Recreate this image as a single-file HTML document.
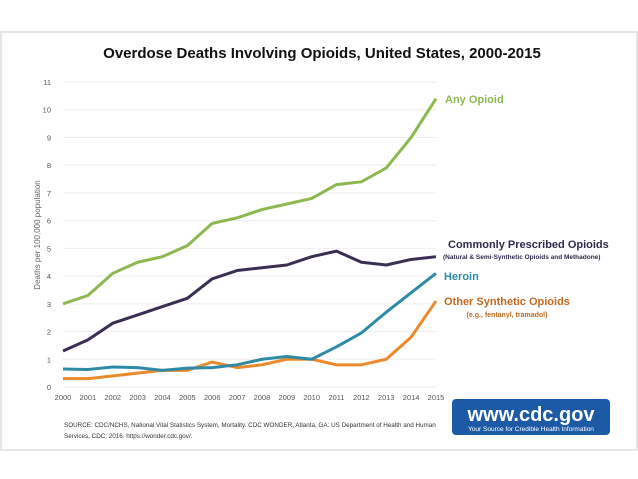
<!DOCTYPE html>
<html><head><meta charset="utf-8"><style>
body{margin:0;background:#fff;font-family:"Liberation Sans",sans-serif}
svg{display:block}
</style></head><body>
<svg width="638" height="479" viewBox="0 0 638 479">
<rect x="1" y="32" width="636" height="418" fill="#fff" stroke="#ddd" stroke-width="1.5"/>
<text x="322" y="58" text-anchor="middle" font-size="15" font-weight="bold" fill="#111">Overdose Deaths Involving Opioids, United States, 2000-2015</text>
<text transform="translate(40,235) rotate(-90)" text-anchor="middle" font-size="8" fill="#666">Deaths per 100,000 population</text>
<g id="grid"></g><g id="ticks"></g><g id="lines"></g>
<text x="445" y="103" font-size="11" font-weight="bold" fill="#8cb84f">Any Opioid</text>
<text x="448" y="248" font-size="11" font-weight="bold" fill="#2e2a4a">Commonly Prescribed Opioids</text>
<text x="443" y="259" font-size="6.5" font-weight="bold" fill="#2e2a4a">(Natural &amp; Semi-Synthetic Opioids and Methadone)</text>
<text x="444" y="280" font-size="11" font-weight="bold" fill="#2f8ba5">Heroin</text>
<text x="444" y="305" font-size="11" font-weight="bold" fill="#c06a20">Other Synthetic Opioids</text>
<text x="507" y="317" text-anchor="middle" font-size="7" font-weight="bold" fill="#c06a20">(e.g., fentanyl, tramadol)</text>
<text x="64" y="427" font-size="6.3" fill="#333">SOURCE: CDC/NCHS, National Vital Statistics System, Mortality. CDC WONDER, Atlanta, GA: US Department of Health and Human</text>
<text x="64" y="438" font-size="6.3" fill="#333">Services, CDC; 2016. https://wonder.cdc.gov/.</text>
<g>
<rect x="452" y="399" width="158" height="36" rx="4" fill="#1c5aa6"/>
<text x="531" y="421" text-anchor="middle" font-size="20" font-weight="bold" fill="#fff">www.cdc.gov</text>
<text x="531" y="431" text-anchor="middle" font-size="6.5" fill="#fff">Your Source for Credible Health Information</text>
</g>
</svg>
<script>
const years=[2000,2001,2002,2003,2004,2005,2006,2007,2008,2009,2010,2011,2012,2013,2014,2015];
const anyOpioid=[3.0,3.3,4.1,4.5,4.7,5.1,5.9,6.1,6.4,6.6,6.8,7.3,7.4,7.9,9.0,10.4];
const prescribed=[1.3,1.7,2.3,2.6,2.9,3.2,3.9,4.2,4.3,4.4,4.7,4.9,4.5,4.4,4.6,4.7];
const heroin=[0.65,0.63,0.72,0.7,0.6,0.68,0.7,0.8,1.0,1.1,1.0,1.45,1.95,2.7,3.4,4.1];
const otherSynthetic=[0.3,0.3,0.4,0.5,0.6,0.6,0.9,0.7,0.8,1.0,1.0,0.8,0.8,1.0,1.8,3.1];
const yTicks=[0,1,2,3,4,5,6,7,8,9,10,11];
const NS="http://www.w3.org/2000/svg";
const X0=63,X1=436,Y0=387,Y1=82;
const x=i=>X0+(X1-X0)*(years[i]-years[0])/(years[years.length-1]-years[0]);
const y=v=>Y0-(Y0-Y1)*v/11;
const grid=document.getElementById('grid'),ticks=document.getElementById('ticks'),lines=document.getElementById('lines');
yTicks.forEach(t=>{
 const l=document.createElementNS(NS,'line');
 l.setAttribute('x1',X0);l.setAttribute('x2',X1);l.setAttribute('y1',y(t));l.setAttribute('y2',y(t));
 l.setAttribute('stroke','#eee');l.setAttribute('stroke-width','1');
 
 
 grid.appendChild(l);
 const tx=document.createElementNS(NS,'text');
 tx.setAttribute('x',X0-12);tx.setAttribute('y',y(t)+3);tx.setAttribute('text-anchor','end');
 tx.setAttribute('font-size','7.5');tx.setAttribute('fill','#555');tx.textContent=t;
 
 
 ticks.appendChild(tx);
});
years.forEach((yr,i)=>{
 const tx=document.createElementNS(NS,'text');
 tx.setAttribute('x',x(i));tx.setAttribute('y',Y0+13);tx.setAttribute('text-anchor','middle');
 tx.setAttribute('font-size','7.5');tx.setAttribute('fill','#555');tx.textContent=yr;
 
 
 ticks.appendChild(tx);
});
function draw(arr,color,name){
 const p=document.createElementNS(NS,'polyline');
 p.setAttribute('points',arr.map((v,i)=>x(i)+','+y(v)).join(' '));
 p.setAttribute('fill','none');p.setAttribute('stroke',color);p.setAttribute('stroke-width','3');
 p.setAttribute('stroke-linejoin','round');
 
 
 lines.appendChild(p);
}
draw(otherSynthetic,'#e98a2c','line-other-synthetic');
draw(heroin,'#2f8ba5','line-heroin');
draw(prescribed,'#3a2e52','line-prescribed');
draw(anyOpioid,'#8cb84f','line-any-opioid');
</script>
</body></html>
